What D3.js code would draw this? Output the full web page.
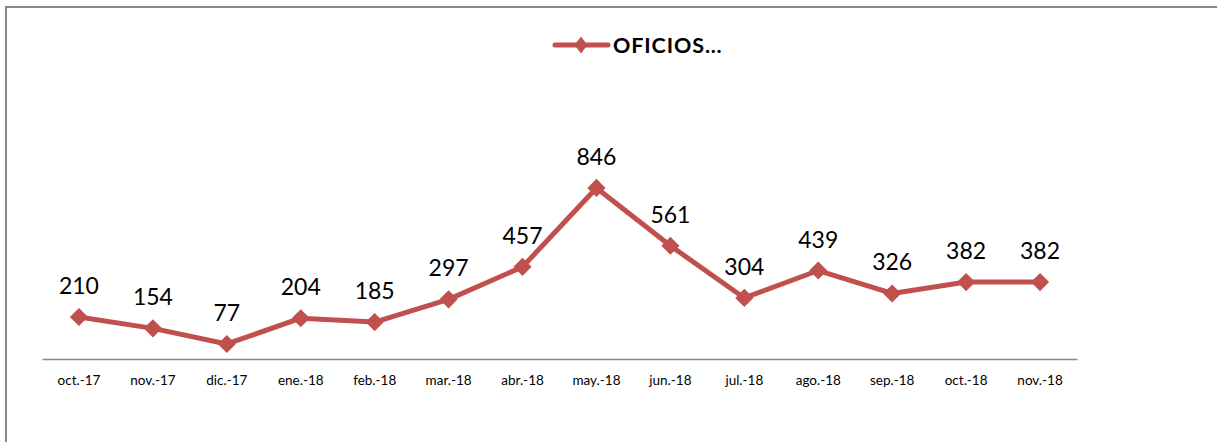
<!DOCTYPE html>
<html><head><meta charset="utf-8">
<script src="https://cdn.jsdelivr.net/npm/d3@7"></script>
<style>body{margin:0;background:#fff}svg{display:block}</style>
</head><body>
<svg id="c" width="1217" height="442"></svg>
<script>
const categories = ["oct.-17","nov.-17","dic.-17","ene.-18","feb.-18","mar.-18","abr.-18","may.-18","jun.-18","jul.-18","ago.-18","sep.-18","oct.-18","nov.-18"];
const values = [210,154,77,204,185,297,457,846,561,304,439,326,382,382];
const seriesName = "OFICIOS…";
const color = "#C0504D";
const font = "Lato, 'Open Sans', sans-serif";

const svg = d3.select("#c");
// chart border
svg.append("rect").attr("x",6).attr("y",7).attr("width",1240).attr("height",460)
  .attr("fill","none").attr("stroke","#888").attr("stroke-width",2);

const x = d3.scaleBand().domain(categories).range([42,1077]);
const y = d3.scaleLinear().domain([0,1000]).range([359.6,156.7]);

const xAxis = svg.append("g").attr("transform","translate(0,359)")
  .call(d3.axisBottom(x).tickSize(0).tickPadding(16));
xAxis.select(".domain").attr("stroke","#868686").attr("stroke-width",1.5);
xAxis.selectAll("text").attr("font-family",font).attr("font-size",13.5).attr("fill","#000");

const cx = d => x(d) + x.bandwidth()/2;
const pts = categories.map((c,i)=>[cx(c), y(values[i])]);

svg.append("path").attr("d", d3.line()(pts)).attr("fill","none")
  .attr("stroke",color).attr("stroke-width",5).attr("stroke-linejoin","round");

const sym = d3.symbol().type(d3.symbolDiamond2).size(210);
svg.selectAll("path.m").data(pts).join("path").attr("class","m")
  .attr("transform",d=>`translate(${d[0]},${d[1]})`)
  .attr("d",sym).attr("fill",color);

svg.selectAll("text.lbl").data(pts).join("text").attr("class","lbl")
  .attr("x",d=>d[0]).attr("y",d=>d[1]-23)
  .attr("text-anchor","middle").attr("font-family",font)
  .attr("font-size",23).attr("fill","#000").text((d,i)=>values[i]);

// legend
const lg = svg.append("g");
lg.append("line").attr("x1",555).attr("x2",608).attr("y1",45).attr("y2",45)
  .attr("stroke",color).attr("stroke-width",5).attr("stroke-linecap","round");
lg.append("path").attr("transform","translate(581,45) scale(0.85,1.1)")
  .attr("d",d3.symbol().type(d3.symbolDiamond2).size(150)).attr("fill",color);
lg.append("text").attr("x",613).attr("y",53).attr("font-family",font)
  .attr("font-weight","bold").attr("font-size",21.5).attr("letter-spacing",0.9)
  .attr("fill","#000").text(seriesName);
</script>
</body></html>
